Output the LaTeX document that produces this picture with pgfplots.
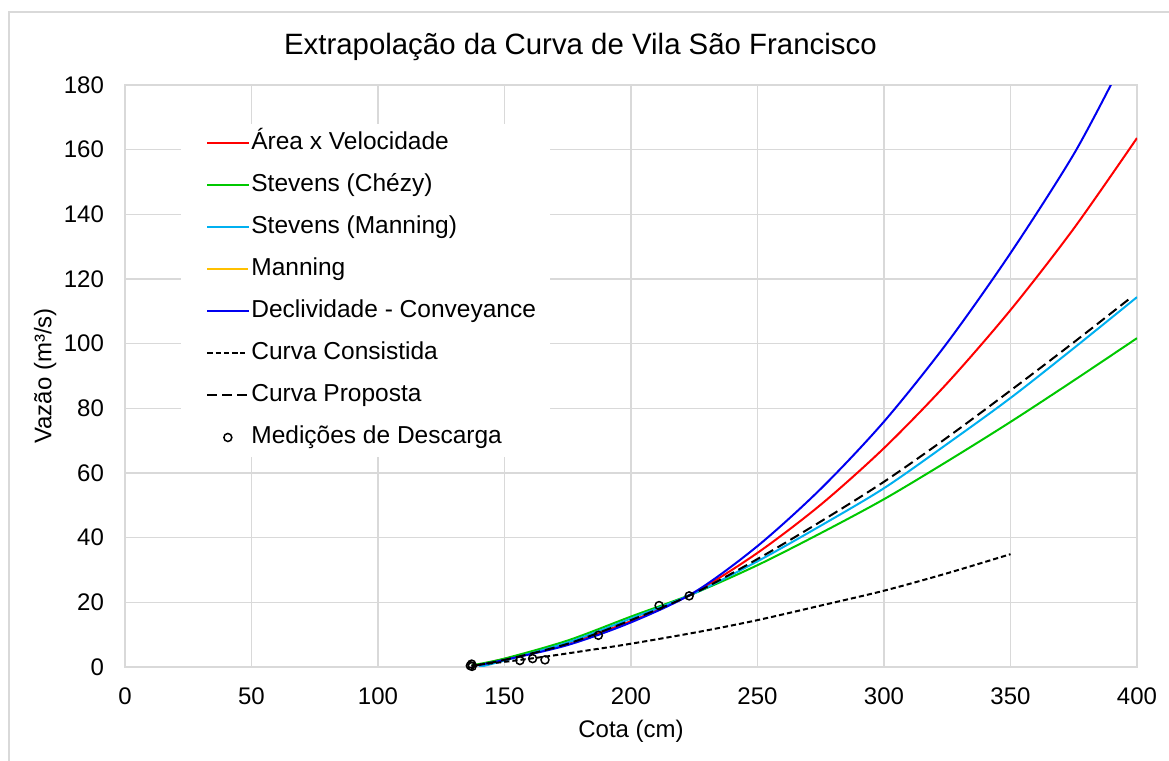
\documentclass[border=0pt]{standalone}
\usepackage{fontspec}
\setmainfont{Liberation Sans}
\usepackage{pgfplots}
\pgfplotsset{compat=1.18}
\definecolor{gridgray}{RGB}{217,217,217}
\definecolor{cRed}{RGB}{255,0,0}
\definecolor{cGreen}{RGB}{0,200,0}
\definecolor{cCyan}{RGB}{0,176,240}
\definecolor{cOrange}{RGB}{255,192,0}
\definecolor{cBlue}{RGB}{0,0,240}
\begin{document}
\begin{tikzpicture}
\path[use as bounding box] (-62.5pt,-47pt) rectangle (522pt,333.5pt);
\draw[gridgray,line width=1pt] (-58pt,-50pt) -- (-58pt,327.5pt) -- (530pt,327.5pt);
\begin{axis}[
  at={(0pt,0pt)}, anchor=south west,
  scale only axis, width=506pt, height=291pt,
  xmin=0, xmax=400, ymin=0, ymax=180,
  xtick distance=50, ytick distance=20,
  grid=major,
  grid style={gridgray, line width=0.6pt},
  axis line style={gridgray, line width=0.6pt},
  major tick length=0pt,
  tick style={draw=none},
  /pgf/number format/assume math mode=true,
  ticklabel style={font=\fontsize{12}{14}\selectfont},
  xticklabel style={yshift=-7pt},
  yticklabel style={xshift=-7pt},
  title={Extrapolação da Curva de Vila São Francisco},
  title style={at={(0.45,1)}, anchor=center, yshift=13pt, font=\fontsize{14.7}{16}\selectfont},
  xlabel={Cota (cm)},
  xlabel style={at={(0.5,0)}, anchor=center, yshift=-32pt, font=\fontsize{12}{14}\selectfont},
  ylabel={Vazão (m³/s)},
  ylabel style={at={(-0.079,0.5)}, anchor=center, font=\fontsize{12}{14}\selectfont},
  clip=true,
  legend style={at={(0.0553,0.933)}, anchor=north west, draw=none, fill=white,
    inner xsep=6pt, inner ysep=3pt, row sep=7.9pt,
    font=\fontsize{12.25}{14}\selectfont,
    nodes={inner sep=1pt, text height=8.6pt, text depth=2.5pt, anchor=west}},
  legend cell align=left,
  legend image code/.code={\path (0pt,0pt); \draw[mark repeat=2,mark phase=2,#1] plot coordinates {(6.5pt,0pt) (16.75pt,0pt) (27pt,0pt)};},
]
\addplot[cRed, line width=1pt, smooth] coordinates {
(137,0.3) (150,2.5) (175,7.4) (200,14.2) (225,23.0) (250,35.3) (275,50.2) (300,67.7) (325,87.8) (350,110.4) (375,135.6) (400,163.6)};
\addlegendentry{Área x Velocidade}
\addplot[cGreen, line width=1pt, smooth] coordinates {
(137,0.5) (150,2.6) (175,8.2) (200,15.6) (225,22.8) (250,31.5) (275,41.4) (300,51.9) (325,63.6) (350,75.8) (375,88.6) (400,101.7)};
\addlegendentry{Stevens (Chézy)}
\addplot[cCyan, line width=1pt, smooth] coordinates {
(140,0) (150,2.0) (175,7.6) (200,15) (225,22.8) (250,32.7) (275,43.7) (300,55.3) (325,69) (350,83.2) (375,98.6) (400,114.4)};
\addlegendentry{Stevens (Manning)}
\addlegendimage{cOrange, line width=1pt}
\addlegendentry{Manning}
\addplot[cBlue, line width=1pt, smooth] coordinates {
(137,0.2) (150,2.2) (175,6.8) (200,13.8) (225,23.1) (250,37.4) (275,55.1) (300,75.9) (325,100.3) (350,128) (375,158.6) (392,183.6)};
\addlegendentry{Declividade - Conveyance}
\addplot[black, line width=1pt, dash pattern=on 2.6pt off 1.5pt, smooth] coordinates {
(137,0.5) (150,1.6) (166,3.2) (180,4.8) (200,7.2) (227,10.9) (250,14.5) (275,19) (300,23.6) (325,29) (350,34.9)};
\addlegendentry{Curva Consistida}
\addplot[black, line width=1pt, dash pattern=on 5pt off 2.5pt, smooth] coordinates {
(137,0.3) (150,2.2) (175,7.2) (200,14.5) (225,22.8) (250,33.4) (275,45) (300,57.3) (325,71) (350,85.5) (375,100.4) (398,114.5)};
\addlegendentry{Curva Proposta}
\addplot[only marks, mark=o, mark size=2pt, black, line width=0.75pt] coordinates {
(136.5,0.4) (137,0.9) (137.2,0.2) (156.1,2.0) (161.1,2.6) (166,2.2) (187.1,9.8) (211.1,19.0) (223,22.0)};
\addlegendentry{Medições de Descarga}
\end{axis}
\end{tikzpicture}
\end{document}
